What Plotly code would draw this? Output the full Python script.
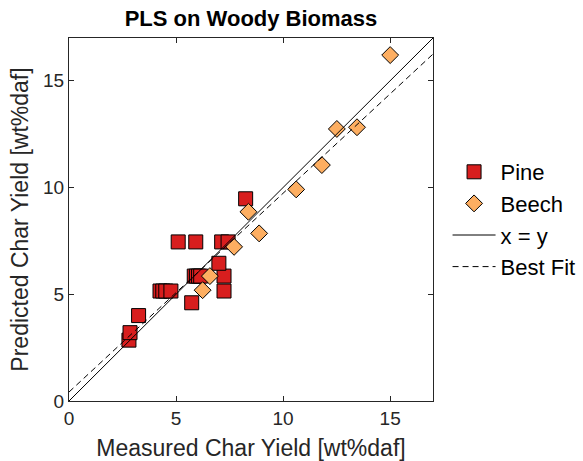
import numpy as np
import plotly.graph_objects as go

# Measured vs. predicted char yield [wt%daf]
pine_measured = [2.80, 2.85, 3.25, 4.25, 4.38, 4.52, 4.76, 5.10, 5.92, 7.13, 7.43,
                 5.73, 5.85, 5.95, 6.05, 6.15, 7.24, 7.00, 7.24, 8.25]
pine_predicted = [2.85, 3.20, 4.00, 5.15, 5.15, 5.15, 5.15, 7.45, 7.45, 7.45, 7.45,
                  4.60, 5.85, 5.85, 5.85, 5.85, 5.85, 6.45, 5.15, 9.47]

beech_measured = [15.00, 12.51, 13.45, 11.81, 10.61, 8.38, 8.88, 7.71, 6.58, 6.24]
beech_predicted = [16.20, 12.74, 12.82, 11.05, 9.91, 8.86, 7.85, 7.22, 5.85, 5.19]

# Best-fit line through all samples
fit_slope = 0.931
fit_intercept = 0.42

axis_max = 17
tick_vals = [0, 5, 10, 15]

ref_x = np.array([0, axis_max])
FONT = "Liberation Sans, Arial"

fig = go.Figure()

fig.add_trace(go.Scatter(
    x=pine_measured, y=pine_predicted, mode="markers", name="Pine",
    marker=dict(symbol="square", size=14, color="#d81e1e",
                line=dict(color="black", width=1)),
))
fig.add_trace(go.Scatter(
    x=beech_measured, y=beech_predicted, mode="markers", name="Beech",
    marker=dict(symbol="diamond", size=13, color="#fdae61",
                line=dict(color="black", width=1)),
))
fig.add_trace(go.Scatter(
    x=ref_x, y=ref_x, mode="lines", name="x = y",
    line=dict(color="black", width=1),
))
fig.add_trace(go.Scatter(
    x=ref_x, y=fit_slope * ref_x + fit_intercept, mode="lines", name="Best Fit",
    line=dict(color="black", width=1, dash="6px,4px"),
))

axis_common = dict(
    range=[0, axis_max], tickvals=tick_vals, ticks="inside", ticklen=5,
    tickcolor="#262626", showline=True, linecolor="#262626", linewidth=1,
    mirror="ticks", showgrid=False, zeroline=False,
    tickfont=dict(family=FONT, size=19, color="#262626"),
)

fig.update_xaxes(**axis_common,
                 title=dict(text="Measured Char Yield [wt%daf]", standoff=15,
                            font=dict(family=FONT, size=23, color="#262626")))
fig.update_yaxes(**axis_common,
                 title=dict(text="Predicted Char Yield [wt%daf]", standoff=8,
                            font=dict(family=FONT, size=23, color="#262626")))

fig.update_layout(
    width=583, height=461,
    margin=dict(l=69, r=150, t=38, b=60, autoexpand=False),
    plot_bgcolor="white", paper_bgcolor="white",
    title=dict(text="<b>PLS on Woody Biomass</b>", x=0.5, xref="paper",
               y=1 - 18 / 461, yref="container", yanchor="middle",
               font=dict(family=FONT, size=22, color="black")),
    legend=dict(x=1.04, xanchor="left", y=0.5, yanchor="middle",
                font=dict(family=FONT, size=22, color="black"),
                itemwidth=43, tracegroupgap=0, bgcolor="rgba(0,0,0,0)"),
    showlegend=True,
)

fig.write_html("out.html")
